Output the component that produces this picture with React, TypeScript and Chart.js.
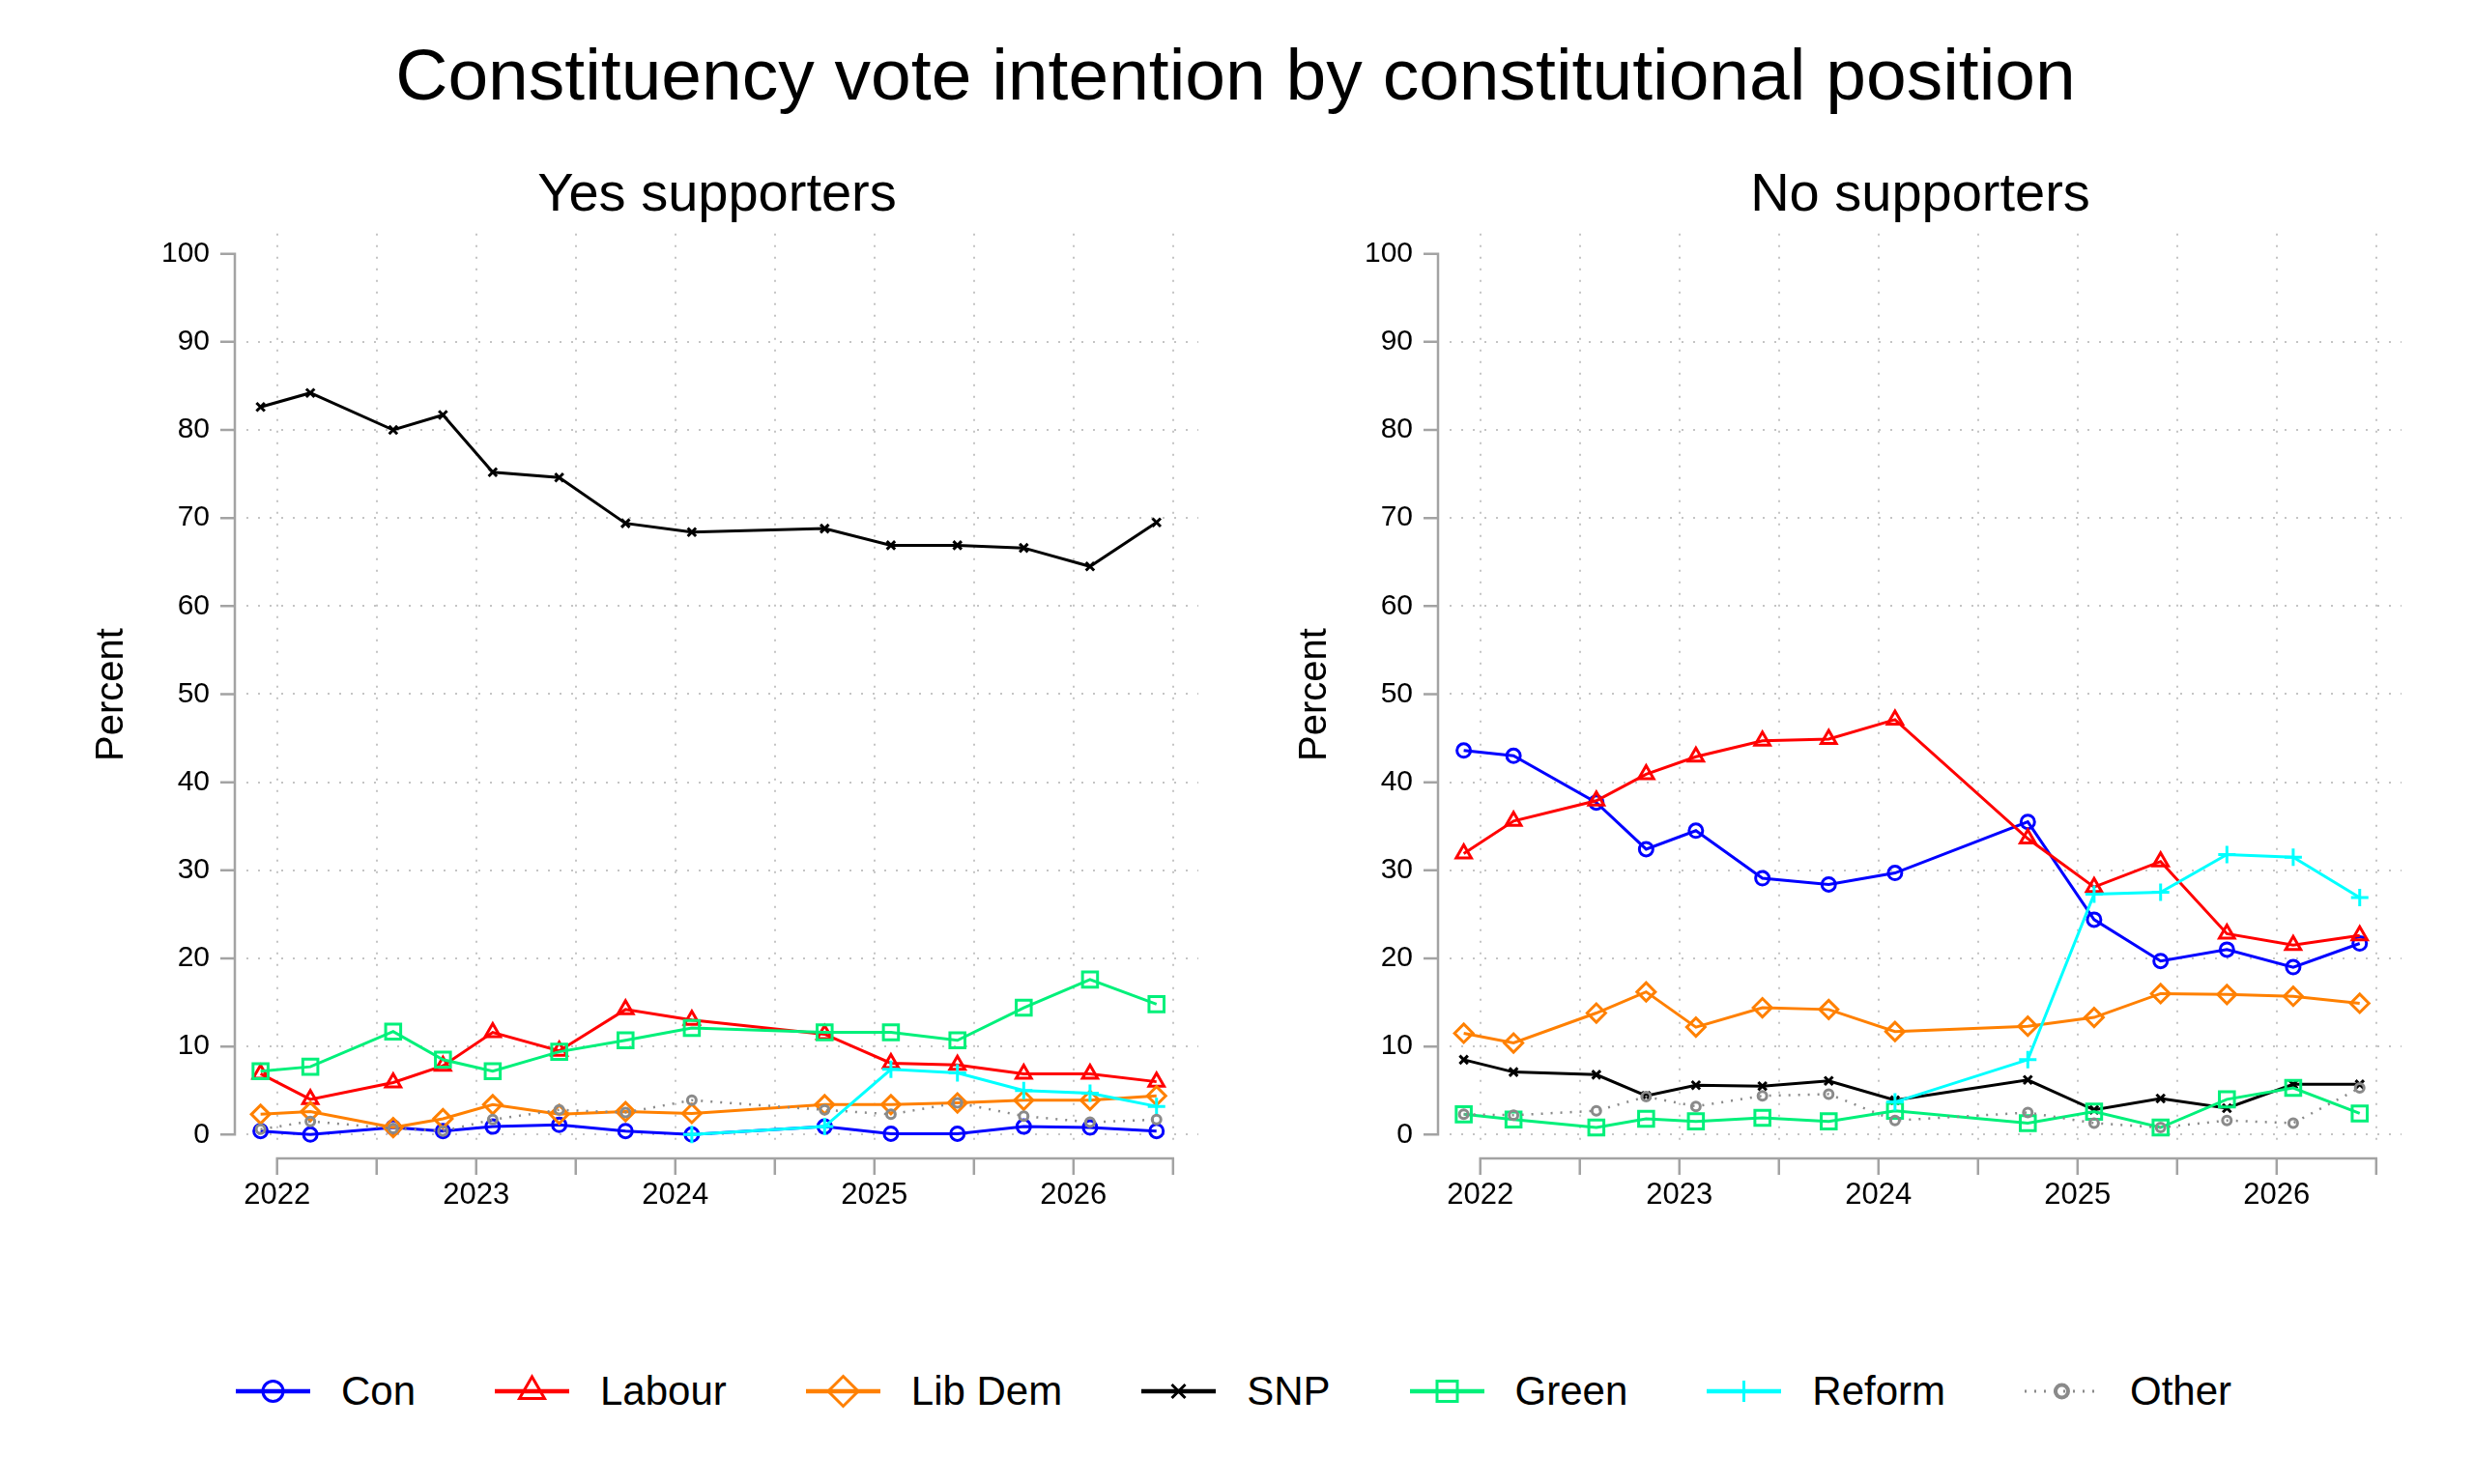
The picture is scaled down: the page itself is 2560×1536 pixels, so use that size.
import { useEffect, useRef } from "react";
import { Chart, registerables } from "chart.js";

Chart.register(...registerables);

const FONT = '"Liberation Sans", Arial, Helvetica, sans-serif';

// poll dates as decimal years
const surveyDates = [
  2021.917, 2022.167, 2022.583, 2022.833, 2023.083, 2023.417, 2023.75,
  2024.083, 2024.75, 2025.083, 2025.417, 2025.75, 2026.083, 2026.417,
];

const parties = ["Con", "Labour", "Lib Dem", "SNP", "Green", "Reform", "Other"];

// Yes supporters
const yesCon = [0.4, 0.0, 0.8, 0.4, 0.9, 1.1, 0.4, 0.0, 0.9, 0.1, 0.1, 0.9, 0.8, 0.4];
const yesLabour = [6.9, 4.0, 5.9, 7.8, 11.6, 9.5, 14.2, 13.0, 11.4, 8.1, 7.9, 6.9, 6.9, 6.0];
const yesLibDem = [2.3, 2.6, 0.8, 1.8, 3.4, 2.3, 2.6, 2.4, 3.4, 3.4, 3.6, 3.9, 3.9, 4.4];
const yesSNP = [82.6, 84.2, 80.0, 81.7, 75.2, 74.6, 69.4, 68.4, 68.8, 66.9, 66.9, 66.6, 64.5, 69.5];
const yesGreen = [7.2, 7.7, 11.7, 8.5, 7.2, 9.4, 10.7, 12.1, 11.6, 11.6, 10.7, 14.4, 17.6, 14.8];
const yesReform = [null, null, null, null, null, null, null, 0.0, 0.9, 7.4, 7.0, 5.0, 4.7, 3.2];
const yesOther = [0.6, 1.5, 0.7, 0.4, 1.7, 2.8, 2.5, 3.9, 2.8, 2.3, 3.6, 2.1, 1.4, 1.7];

// No supporters
const noCon = [43.6, 43.0, 37.7, 32.4, 34.5, 29.1, 28.4, 29.7, 35.5, 24.4, 19.7, 21.0, 19.0, 21.7];
const noLabour = [31.9, 35.6, 37.9, 40.9, 42.9, 44.7, 44.9, 47.1, 33.6, 28.1, 31.0, 22.8, 21.5, 22.6];
const noLibDem = [11.5, 10.4, 13.8, 16.2, 12.2, 14.4, 14.2, 11.7, 12.3, 13.3, 16.0, 15.9, 15.7, 14.9];
const noSNP = [8.5, 7.1, 6.8, 4.4, 5.6, 5.5, 6.1, 3.9, 6.2, 2.8, 4.1, 3.0, 5.7, 5.7];
const noGreen = [2.3, 1.7, 0.8, 1.8, 1.5, 1.9, 1.5, 2.7, 1.3, 2.6, 0.8, 4.0, 5.3, 2.4];
const noReform = [null, null, null, null, null, null, null, 3.7, 8.5, 27.3, 27.5, 31.8, 31.5, 26.9];
const noOther = [2.3, 2.2, 2.7, 4.3, 3.2, 4.4, 4.6, 1.6, 2.5, 1.3, 0.8, 1.6, 1.3, 5.3];

const yesSeries = [yesCon, yesLabour, yesLibDem, yesSNP, yesGreen, yesReform, yesOther];
const noSeries = [noCon, noLabour, noLibDem, noSNP, noGreen, noReform, noOther];

// styling per party
const partyColors = ["#0000ff", "#ff0000", "#ff8000", "#000000", "#00f07a", "#00ffff", "#8a8a8a"];
const partyMarkers = ["circle", "triangle", "rectRot", "crossRot", "rect", "cross", "circle"];
const markerRadius = [7, 9, 9.5, 6, 11, 9, 4.5];

const stataAxes = {
  id: "stataAxes",
  afterDraw(chart: any) {
    const { ctx, chartArea } = chart;
    const xs = chart.scales.x;
    const ys = chart.scales.y;
    const yt = ys.ticks.map((t: any) => t.value);
    const xt = xs.ticks.map((t: any) => t.value);
    const ax = chartArea.left - 12;
    const ay = chartArea.bottom + 11;
    ctx.save();
    ctx.strokeStyle = "#a3a3a3";
    ctx.lineWidth = 2.5;
    ctx.beginPath();
    ctx.moveTo(ax, ys.getPixelForValue(yt[0]) + 1.2);
    ctx.lineTo(ax, ys.getPixelForValue(yt[yt.length - 1]) - 1.2);
    yt.forEach((v: number) => {
      const p = ys.getPixelForValue(v);
      ctx.moveTo(ax - 15, p);
      ctx.lineTo(ax, p);
    });
    ctx.moveTo(xs.getPixelForValue(xt[0]) - 1.2, ay);
    ctx.lineTo(xs.getPixelForValue(xt[xt.length - 1]) + 1.2, ay);
    xt.forEach((v: number) => {
      const p = xs.getPixelForValue(v);
      ctx.moveTo(p, ay);
      ctx.lineTo(p, ay + 17);
    });
    ctx.stroke();
    ctx.restore();
  },
};

function Panel({ left, title, series }: { left: number; title: string; series: (number | null)[][] }) {
  const canvasRef = useRef<HTMLCanvasElement | null>(null);

  useEffect(() => {
    if (!canvasRef.current) return;
    const datasets = parties.map((name, i) => ({
      label: name,
      data: surveyDates.map((d, j) => ({ x: d, y: series[i][j] })),
      borderColor: partyColors[i],
      backgroundColor: "rgba(0,0,0,0)",
      borderWidth: name === "Other" ? 2.5 : 3,
      borderDash: name === "Other" ? [2, 8] : [],
      pointStyle: partyMarkers[i],
      pointRadius: markerRadius[i],
      pointBorderWidth: 3,
      pointBorderColor: partyColors[i],
      pointBackgroundColor: "rgba(0,0,0,0)",
      spanGaps: false,
      fill: false,
      order: parties.length - i,
    }));

    const chart = new Chart(canvasRef.current, {
      type: "line",
      data: { datasets },
      plugins: [stataAxes],
      options: {
        animation: false,
        responsive: false,
        layout: { padding: { left: 105, right: 40, top: 241.7, bottom: 32 } },
        plugins: { legend: { display: false }, tooltip: { enabled: false } },
        scales: {
          x: {
            type: "linear",
            min: 2021.846,
            max: 2026.627,
            afterFit: (s: any) => {
              s.height = 80;
            },
            ticks: {
              stepSize: 0.5,
              includeBounds: false,
              autoSkip: false,
              maxRotation: 0,
              padding: 31,
              color: "#000",
              font: { family: FONT, size: 31 },
              callback: (v: any) => (Number.isInteger(v) ? String(v) : ""),
            },
            grid: { color: "#c4c4c4", lineWidth: 2, drawTicks: false },
            border: { display: false, dash: [2, 10] },
          },
          y: {
            type: "linear",
            min: -1.5,
            max: 102.3,
            afterFit: (s: any) => {
              s.width = 150;
            },
            ticks: {
              stepSize: 10,
              includeBounds: false,
              padding: 38,
              color: "#000",
              font: { family: FONT, size: 30 },
            },
            grid: {
              color: (c: any) => (c.tick && c.tick.value === 100 ? "rgba(0,0,0,0)" : "#c4c4c4"),
              lineWidth: 2,
              drawTicks: false,
            },
            border: { display: false, dash: [2, 10] },
          },
        },
      },
    } as any);

    return () => chart.destroy();
  }, [series]);

  return (
    <div style={{ position: "absolute", left, top: 0, width: 1280, height: 1300 }}>
      <canvas
        ref={canvasRef}
        width={1280}
        height={1300}
        style={{ position: "absolute", left: 0, top: 0, width: 1280, height: 1300 }}
      />
      <div
        style={{
          position: "absolute",
          left: 442,
          top: 170.6,
          width: 600,
          textAlign: "center",
          fontSize: 56,
          lineHeight: 1,
          whiteSpace: "nowrap",
        }}
      >
        {title}
      </div>
      <div
        style={{
          position: "absolute",
          left: 113 - 150,
          top: 719 - 20,
          width: 300,
          height: 40,
          lineHeight: "40px",
          fontSize: 40,
          textAlign: "center",
          transform: "rotate(-90deg)",
        }}
      >
        Percent
      </div>
    </div>
  );
}

function LegendKey({ index }: { index: number }) {
  const color = partyColors[index];
  const kind = partyMarkers[index];
  const cx = 38.5;
  const cy = 20;
  const sw = 3;
  let marker = null;
  if (kind === "circle" && parties[index] !== "Other") {
    marker = <circle cx={cx} cy={cy} r={10.5} fill="none" stroke={color} strokeWidth={sw} />;
  } else if (kind === "circle") {
    marker = <circle cx={cx} cy={cy} r={6.5} fill="none" stroke={color} strokeWidth={4} />;
  } else if (kind === "triangle") {
    const R = 15;
    const pts = [0, 1, 2]
      .map((k) => {
        const a = -Math.PI / 2 + (k * 2 * Math.PI) / 3;
        return `${cx + R * Math.cos(a)},${cy + R * Math.sin(a)}`;
      })
      .join(" ");
    marker = <polygon points={pts} fill="none" stroke={color} strokeWidth={sw} />;
  } else if (kind === "rectRot") {
    const r = 15.5;
    marker = (
      <polygon
        points={`${cx},${cy - r} ${cx + r},${cy} ${cx},${cy + r} ${cx - r},${cy}`}
        fill="none"
        stroke={color}
        strokeWidth={sw}
      />
    );
  } else if (kind === "rect") {
    const h = 10.5;
    marker = <rect x={cx - h} y={cy - h} width={2 * h} height={2 * h} fill="none" stroke={color} strokeWidth={sw} />;
  } else if (kind === "crossRot") {
    const a = 7;
    marker = (
      <path
        d={`M${cx - a},${cy - a} L${cx + a},${cy + a} M${cx - a},${cy + a} L${cx + a},${cy - a}`}
        stroke={color}
        strokeWidth={sw}
      />
    );
  } else if (kind === "cross") {
    const a = 11;
    marker = (
      <path d={`M${cx},${cy - a} L${cx},${cy + a} M${cx - a},${cy} L${cx + a},${cy}`} stroke={color} strokeWidth={sw} />
    );
  }
  const isOther = parties[index] === "Other";
  return (
    <svg width={77} height={40} style={{ display: "block", overflow: "visible" }}>
      <line
        x1={0}
        x2={77}
        y1={cy}
        y2={cy}
        stroke={color}
        strokeWidth={isOther ? 3 : 4.5}
        strokeDasharray={isOther ? "2 8" : undefined}
      />
      {marker}
    </svg>
  );
}

export default function App() {
  return (
    <div
      style={{
        position: "absolute",
        left: 0,
        top: 0,
        width: 2560,
        height: 1536,
        background: "#fff",
        overflow: "hidden",
        fontFamily: FONT,
        color: "#000",
      }}
    >
      <div
        style={{
          position: "absolute",
          left: 0,
          width: 2557,
          top: 39.8,
          textAlign: "center",
          fontSize: 75,
          lineHeight: 1,
          whiteSpace: "nowrap",
        }}
      >
        Constituency vote intention by constitutional position
      </div>
      <Panel left={0} title="Yes supporters" series={yesSeries} />
      <Panel left={1245} title="No supporters" series={noSeries} />
      <div
        style={{
          position: "absolute",
          left: 0,
          width: 2553,
          top: 1415,
          height: 50,
          display: "flex",
          justifyContent: "center",
          alignItems: "center",
          gap: 82,
        }}
      >
        {parties.map((p, i) => (
          <div key={p} style={{ display: "flex", alignItems: "center", gap: 32 }}>
            <LegendKey index={i} />
            <span style={{ fontSize: 42, lineHeight: 1, whiteSpace: "nowrap" }}>{p}</span>
          </div>
        ))}
      </div>
    </div>
  );
}
